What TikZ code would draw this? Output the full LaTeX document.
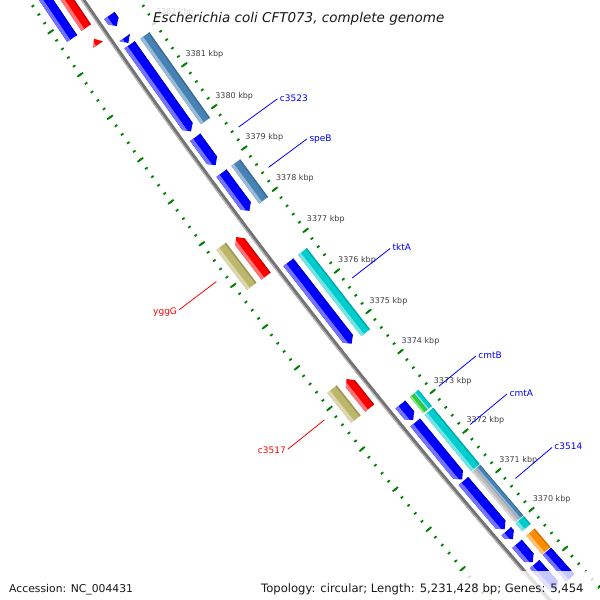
\documentclass[tikz,border=0pt]{standalone}
\usepackage{fontspec}
\setmainfont{DejaVu Sans}
\definecolor{cgsteel}{RGB}{70,130,180}
\definecolor{cgcyan}{RGB}{0,205,205}
\definecolor{cggreen}{RGB}{50,205,50}
\definecolor{cggray}{RGB}{190,190,190}
\definecolor{cgorange}{RGB}{255,140,0}
\definecolor{cgkhaki}{RGB}{189,183,107}
\definecolor{cgblue}{RGB}{0,0,255}
\definecolor{cgred}{RGB}{255,0,0}
\definecolor{rulergreen}{RGB}{0,128,0}

% angle of a position (kbp) seen from the centre of the map
\newcommand{\kb}[1]{216.26+0.4895*(3379-(#1))}
% colour, tail (kbp), tip (kbp), inner radius, outer radius, head length (kbp)
\newcommand{\gene}[6]{%
  \pgfmathsetmacro\gA{\kb{#2}}%
  \pgfmathsetmacro\gB{\kb{#3}}%
  \pgfmathsetmacro\gC{\gB+(\gA-\gB)*min(1,(#6)/abs((#2)-(#3)))}%
  \pgfmathsetmacro\gM{(#4+#5)/2}%
  \pgfmathsetmacro\gL{#5-0.3*(#5-#4)}%
  \pgfmathsetmacro\gD{#4+0.12*(#5-#4)}%
  \pgfmathsetmacro\gO{#5+2}%
  \pgfmathsetmacro\gI{#4-2}%
  \fill[#1] (\gA:#4) -- (\gC:#4) -- (\gB:\gM) -- (\gC:#5) -- (\gA:#5) -- cycle;
  \begin{scope}
    \clip (\gA:#4) -- (\gC:#4) -- (\gB:\gM) -- (\gC:#5) -- (\gA:#5) -- cycle;
    \fill[#1!55!white] (\gA:\gL) -- (\gB:\gL) -- (\gB:\gO) -- (\gA:\gO) -- cycle;
    \fill[#1!82!black] (\gA:\gI) -- (\gB:\gI) -- (\gB:\gD) -- (\gA:\gD) -- cycle;
  \end{scope}
}

\begin{document}
\begin{tikzpicture}[x=1pt, y=1pt,
  mintick/.style={line width=1.8pt, rulergreen},
  majtick/.style={line width=1.8pt, rulergreen},
  kbplab/.style={font=\fontsize{8}{9}\selectfont, text=black!75, anchor=base west, inner sep=0pt, xshift=1pt, yshift=8.5pt},
  outlab/.style={font=\fontsize{9}{10}\selectfont, text=cgblue, anchor=base west, inner sep=0pt, xshift=2pt, yshift=-2.5pt},
  inlab/.style={font=\fontsize{9}{10}\selectfont, text=cgred, anchor=base east, inner sep=0pt, xshift=-1.6pt, yshift=-4.5pt},
  fade/.style={fill=white, fill opacity=0.78}]
\path[use as bounding box] (0,0) rectangle (600,-600);
\clip (0,0) rectangle (600,-600);
\fill[white] (0,0) rectangle (600,-600);

\begin{scope}[shift={(5087,3404)}]
% rulers
\foreach \i in {0,...,90} {
  \draw[mintick] ({\kb{3366+0.2*\i}}:6004.5) -- ({\kb{3366+0.2*\i}}:6007.5);
  \draw[mintick] ({\kb{3366+0.2*\i}}:6095.5) -- ({\kb{3366+0.2*\i}}:6098.5);
}
\foreach \k in {3366,...,3384} {
  \draw[majtick] ({\kb{\k}}:6002.5) -- ({\kb{\k}}:6009.5);
  \draw[majtick] ({\kb{\k}}:6093.5) -- ({\kb{\k}}:6100.5);
}
\foreach \k in {3370,...,3382}
  \node[kbplab] (k\k) at ({\kb{\k}}:6006) {\k\ kbp};

% backbone
\draw[line width=3pt, black!55] ({\kb{3384}}:6051.5) arc[start angle={\kb{3384}}, end angle={\kb{3366}}, radius=6051.5];
\draw[line width=1.2pt, black!30] ({\kb{3384}}:6053.6) arc[start angle={\kb{3384}}, end angle={\kb{3366}}, radius=6053.6];

% outer COG track
\gene{cgblue}{3382.66}{3384.5}{6077}{6089}{0}
\gene{cgkhaki}{3377.74}{3376.77}{6077}{6089}{0}
\gene{cgkhaki}{3374.26}{3373.52}{6077}{6089}{0}
% forward strand
\gene{cgred}{3382.68}{3384.5}{6059.5}{6071}{0.12}
\gene{cgred}{3382.28}{3382.42}{6059.5}{6071}{0.14}
\gene{cgred}{3376.76}{3377.71}{6059.5}{6071}{0.12}
\gene{cgred}{3373.52}{3374.24}{6059.5}{6071}{0.12}
% reverse strand
\gene{cgblue}{3382.62}{3382.37}{6033}{6045.5}{0.12}
\gene{cgblue}{3382.10}{3381.97}{6033}{6045.5}{0.13}
\gene{cgblue}{3381.93}{3379.87}{6033}{6045.5}{0.12}
\gene{cgblue}{3379.73}{3379.06}{6033}{6045.5}{0.12}
\gene{cgblue}{3378.87}{3377.96}{6033}{6045.5}{0.12}
\gene{cgblue}{3376.71}{3374.71}{6033}{6045.5}{0.12}
\gene{cgblue}{3373.20}{3372.81}{6033}{6045.5}{0.12}
\gene{cgblue}{3372.75}{3371.32}{6033}{6045.5}{0.12}
\gene{cgblue}{3371.28}{3370.05}{6033}{6045.5}{0.12}
\gene{cgblue}{3370.00}{3369.80}{6033}{6045.5}{0.12}
\gene{cgblue}{3369.68}{3369.21}{6033}{6045.5}{0.12}
\gene{cgblue}{3369.16}{3368.50}{6033}{6045.5}{0.12}
% inner COG track
\gene{cgsteel}{3381.91}{3379.87}{6016}{6027}{0}
\gene{cgsteel}{3378.87}{3377.96}{6016}{6027}{0}
\gene{cgcyan}{3376.71}{3374.71}{6016}{6027}{0}
\gene{cggreen}{3373.20}{3372.79}{6021.5}{6027}{0}
\gene{cgcyan}{3373.20}{3372.79}{6016}{6021.5}{0}
\gene{cgcyan}{3372.75}{3371.33}{6016}{6027}{0}
\gene{cggray}{3371.31}{3370.02}{6021.5}{6027}{0}
\gene{cgsteel}{3371.31}{3370.02}{6016}{6021.5}{0}
\gene{cgcyan}{3370.00}{3369.80}{6016}{6027}{0}
\gene{cgorange}{3369.68}{3369.21}{6016}{6027}{0}
\gene{cgblue}{3369.19}{3368.50}{6016}{6027}{0}

% labels
\draw[cgblue, line width=0.8pt] ({\kb{3379.395}}:5998) -- ({\kb{3379.395}}:5950) node[outlab] (c3523) {c3523};
\draw[cgblue, line width=0.8pt] ({\kb{3378.415}}:5998) -- ({\kb{3378.415}}:5950) node[outlab] (speB) {speB};
\draw[cgblue, line width=0.8pt] ({\kb{3375.71}}:5998) -- ({\kb{3375.71}}:5950) node[outlab] (tktA) {tktA};
\draw[cgblue, line width=0.8pt] ({\kb{3373.005}}:5998) -- ({\kb{3373.005}}:5950) node[outlab] (cmtB) {cmtB};
\draw[cgblue, line width=0.8pt] ({\kb{3372.04}}:5998) -- ({\kb{3372.04}}:5950) node[outlab] (cmtA) {cmtA};
\draw[cgblue, line width=0.8pt] ({\kb{3370.665}}:5998) -- ({\kb{3370.665}}:5950) node[outlab] (c3514) {c3514};
\draw[cgred, line width=0.8pt] ({\kb{3377.255}}:6108) -- ({\kb{3377.255}}:6155) node[inlab] (yggG) {yggG};
\draw[cgred, line width=0.8pt] ({\kb{3373.89}}:6108) -- ({\kb{3373.89}}:6155) node[inlab] (c3517) {c3517};
\end{scope}

\fill[fade] (150,0) rectangle (452,-28);
\fill[fade] (257,-571) rectangle (598,-600);
\node[anchor=base west, inner sep=0pt, text=black!90, font=\fontsize{13.5}{15}\selectfont\itshape] (title) at (153,-22) {Escherichia coli CFT073, complete genome};
\node[anchor=base west, inner sep=0pt, text=black!90, font=\fontsize{10.8}{13}\selectfont] (acc) at (9,-592) {Accession: NC\_004431};
\node[anchor=base west, inner sep=0pt, text=black!90, font=\fontsize{11.6}{14}\selectfont] (topo) at (261,-592) {Topology: circular; Length: 5,231,428 bp; Genes: 5,454};
\end{tikzpicture}
\end{document}
